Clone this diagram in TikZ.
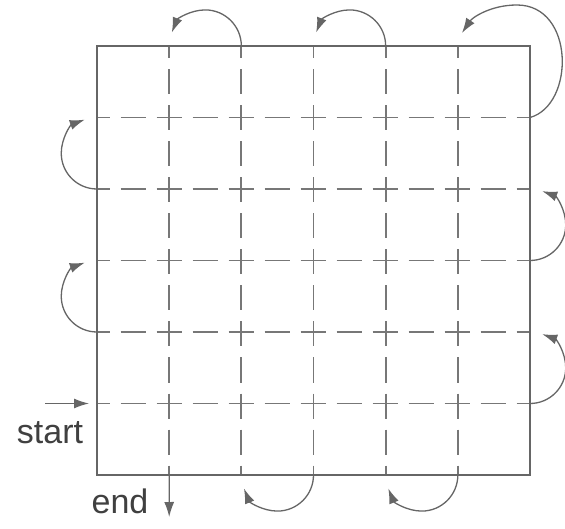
\documentclass[tikz,border=0pt]{standalone}
\usepackage{fontspec}
\setmainfont{Liberation Sans}
\usetikzlibrary{arrows.meta}
\definecolor{frame}{HTML}{666666}
\definecolor{grid}{HTML}{777777}
\definecolor{arr}{HTML}{666666}
\tikzset{
  frameline/.style={draw=frame,line width=2.2pt},
  gridline/.style={draw=grid,line width=1.7pt,dash pattern=on 25pt off 11pt,dash phase=12.5pt},
  turn/.style={draw=arr,line width=1.3pt,-{Latex[length=15pt,width=10pt]}},
  label/.style={text=black!75,font=\fontsize{34}{40}\selectfont,anchor=base,inner sep=0pt}
}
\begin{document}
\begin{tikzpicture}[x=1pt,y=1pt]
\useasboundingbox (0,0) rectangle (565,528);
% grid coordinates: columns x_k, rows Y_j
\foreach \k in {0,...,6} {
  \foreach \j in {0,...,6} {
    \coordinate (p\k\j) at ({97+72.1667*\k},{53+71.5*\j});
  }
}
% dashed grid
\foreach \k in {1,...,5} {
  \draw[gridline] (p\k6) -- (p\k0);
  \draw[gridline] (p0\k) -- (p6\k);
}
% frame
\draw[frameline] (p00) rectangle (p66);
% start / end
\coordinate (sA) at (45,124.5);
\coordinate (sB) at (89,124.5);
\draw[turn] (sA) -- (sB);
\node[label] (start) at (50,85) {start};
\coordinate (eB) at (169.2,11);
\draw[turn] (p10) -- (eB);
\node[label] (end) at (120,15) {end};
% right turns
\draw[turn] (p61) arc[start angle=-90,end angle=70,radius=35.75];
\draw[turn] (p63) arc[start angle=-90,end angle=70,radius=35.75];
% left turns
\draw[turn] (p02) arc[start angle=270,end angle=110,radius=35.75];
\draw[turn] (p04) arc[start angle=270,end angle=110,radius=35.75];
% big corner turn
\coordinate (cT) at (462,495);
\draw[turn] (p65) .. controls (575,423) and (575,523) .. (517,523) .. controls (490,523) and (472,510) .. (cT);
% bottom turns
\draw[turn] (p50) arc[start angle=0,end angle=-158,radius=36.08];
\draw[turn] (p30) arc[start angle=0,end angle=-158,radius=36.08];
% top turns
\draw[turn] (p46) arc[start angle=0,end angle=158,radius=36.08];
\draw[turn] (p26) arc[start angle=0,end angle=158,radius=36.08];
\end{tikzpicture}
\end{document}
